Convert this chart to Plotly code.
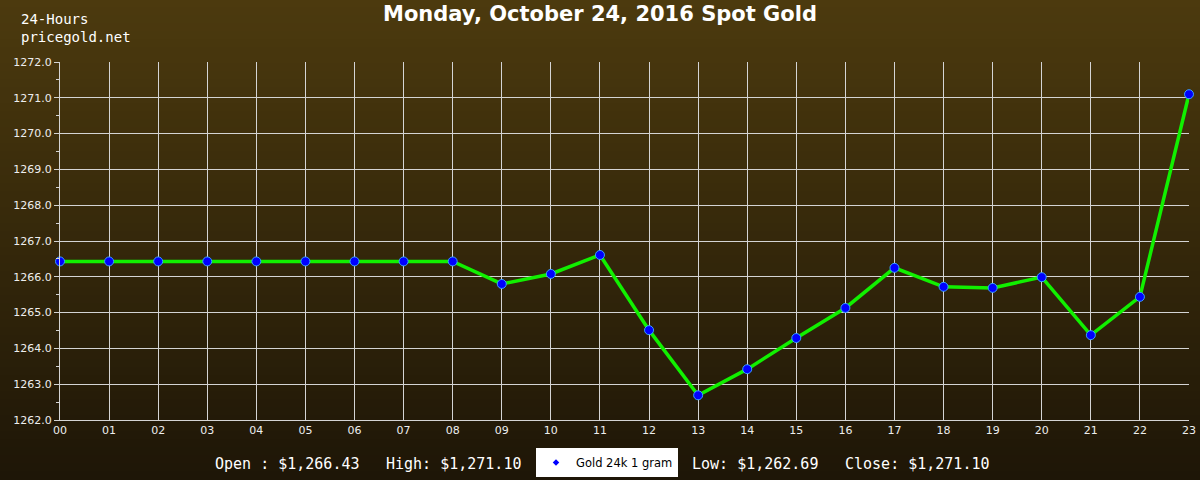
import plotly.graph_objects as go

hours = ["00","01","02","03","04","05","06","07","08","09","10","11",
         "12","13","14","15","16","17","18","19","20","21","22","23"]
prices = [1266.43, 1266.43, 1266.43, 1266.43, 1266.43, 1266.43, 1266.43, 1266.43,
          1266.43, 1265.80, 1266.08, 1266.61, 1264.51, 1262.69, 1263.42, 1264.29,
          1265.13, 1266.25, 1265.72, 1265.69, 1265.99, 1264.37, 1265.44, 1271.10]
y_ticks = [1262.0, 1263.0, 1264.0, 1265.0, 1266.0, 1267.0, 1268.0, 1269.0, 1270.0, 1271.0, 1272.0]
series_name = "Gold 24k 1 gram"
stats = ["Open : $1,266.43", "High: $1,271.10", "Low: $1,262.69", "Close: $1,271.10"]
corner = ["24-Hours", "pricegold.net"]
title = "Monday, October 24, 2016 Spot Gold"

W, H = 1200, 480
L, R, T, B = 60, 11, 62, 60
PW, PH = W - L - R, H - T - B


def px_x(px):
    return (px - L) / PW


def px_y(py):
    return (H - B - py) / PH


fig = go.Figure()

# gradient background bands
top = (76, 58, 14)
bot = (30, 22, 7)
n = 60
shapes = []
for i in range(n):
    f = i / (n - 1)
    c = tuple(round(top[k] + (bot[k] - top[k]) * f) for k in range(3))
    shapes.append(dict(type="rect", xref="paper", yref="paper",
                       x0=px_x(-5), x1=px_x(W + 5),
                       y0=px_y(H * (i + 1) / n) - 0.003,
                       y1=px_y(H * i / n) + 0.003,
                       fillcolor="rgb(%d,%d,%d)" % c, line=dict(width=0), layer="below"))

x_idx = list(range(len(hours)))
fig.add_trace(go.Scatter(
    x=x_idx, y=prices, mode="lines+markers", showlegend=False, cliponaxis=False,
    line=dict(color="#11f000", width=3.5),
    marker=dict(symbol="circle", size=9, color="#0000ff", line=dict(color="#3aa0ff", width=1)),
))
fig.add_trace(go.Scatter(
    x=[None], y=[None], mode="markers", name=series_name,
    marker=dict(symbol="diamond", size=5, color="#0000ff"),
))

mono = dict(family="DejaVu Sans Mono", size=15, color="white")
annotations = [dict(text="<br>".join(corner), xref="paper", yref="paper",
                    x=px_x(19), y=px_y(9), xanchor="left", yanchor="top", align="left",
                    showarrow=False, font=dict(family="DejaVu Sans Mono", size=14, color="white"))]
stat_x = [213, 384, 690, 843]
for s, px in zip(stats, stat_x):
    annotations.append(dict(text=s, xref="paper", yref="paper",
                            x=px_x(px), y=px_y(464),
                            xanchor="left", yanchor="middle", showarrow=False, font=mono))

fig.update_layout(
    width=W, height=H, autosize=False,
    margin=dict(l=L, r=R, t=T, b=B, pad=0, autoexpand=False),
    paper_bgcolor="#2e220a", plot_bgcolor="rgba(0,0,0,0)",
    shapes=shapes,
    annotations=annotations,
    title=dict(text="<b>" + title + "</b>", x=0.5, xref="container", xanchor="center",
               y=1 - 14 / H, yanchor="middle",
               font=dict(family="DejaVu Sans", size=21, color="white")),
    showlegend=True,
    legend=dict(x=536 / W, xanchor="left", xref="container",
                y=1 - 448 / H, yanchor="top", yref="container",
                bgcolor="white", font=dict(family="DejaVu Sans", size=11.5, color="black"),
                itemwidth=30, tracegroupgap=0),
    xaxis=dict(range=[0, 23], tickmode="array", tickvals=x_idx, ticktext=hours,
               showgrid=True, gridcolor="#d4d4d4", gridwidth=1, automargin=False,
               showline=True, linecolor="#d4d4d4", mirror=False, zeroline=False,
               ticks="", tickfont=dict(family="DejaVu Sans", size=11, color="#eeeeee")),
    yaxis=dict(range=[1262, 1272], tickmode="array", tickvals=y_ticks,
               ticktext=["%.1f" % v for v in y_ticks], automargin=False,
               showgrid=True, gridcolor="#d4d4d4", gridwidth=1,
               showline=True, linecolor="#d4d4d4", zeroline=False,
               ticks="outside", ticklen=5, tickcolor="#d4d4d4",
               minor=dict(dtick=0.5, ticks="outside", ticklen=3, tickcolor="#d4d4d4", showgrid=False),
               tickfont=dict(family="DejaVu Sans", size=11, color="#eeeeee")),
)

fig.write_html("out.html", config={"displayModeBar": False, "responsive": False},
               post_script="document.body.style.margin='0';document.body.style.background='#1e1607';")
